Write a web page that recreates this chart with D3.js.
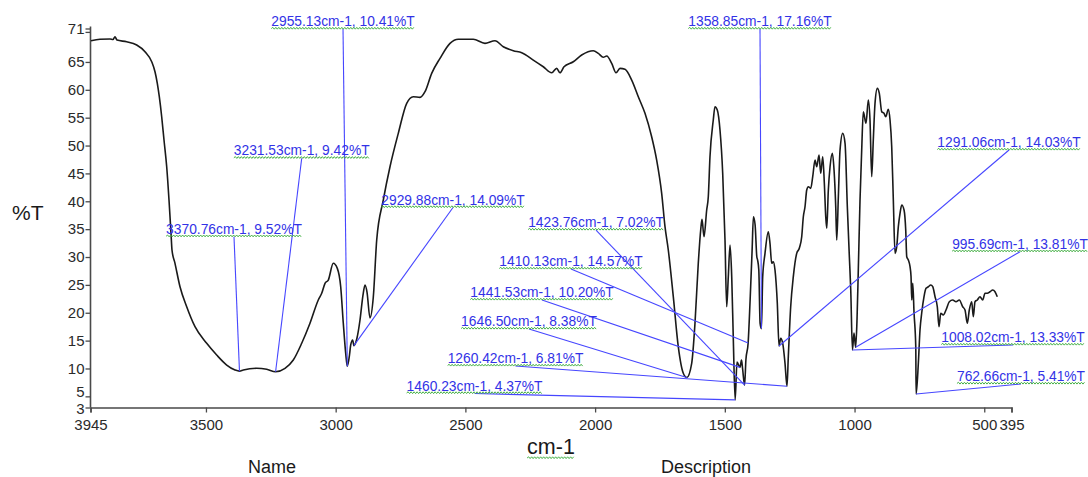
<!DOCTYPE html>
<html>
<head>
<meta charset="utf-8">
<script src="https://cdn.jsdelivr.net/npm/d3@7"></script>
<style>
  html, body { margin: 0; padding: 0; background: #fff; }
  svg { display: block; }
  text { font-family: "Liberation Sans", Arial, sans-serif; }
</style>
</head>
<body>
<svg id="chart" width="1088" height="477"></svg>
<script>
// IR spectrum: wavenumber (cm-1) vs transmittance (%T)
const wavenumbers = [
  3943.1, 3908.4, 3869.8, 3858.3, 3850.6, 3842.9, 3805.5, 3766.9, 3734.9, 3709.1,
  3696.4, 3687.5, 3679.8, 3670.6, 3661.7, 3651.3, 3642.4, 3634.7, 3630.9, 3619.3,
  3600.0, 3574.2, 3542.2, 3497.1, 3458.6, 3420.0, 3388.0, 3370.76, 3356.0, 3304.4,
  3265.8, 3231.53, 3195.3, 3163.3, 3130.9, 3099.0, 3067.0, 3053.8, 3041.1, 3028.4,
  3009.1, 2993.7, 2980.6, 2970.6, 2961.3, 2955.13, 2946.7, 2942.1, 2934.4, 2929.88,
  2917.8, 2906.2, 2894.7, 2886.9, 2879.2, 2867.7, 2854.9, 2841.8, 2816.4, 2790.6,
  2758.6, 2726.2, 2700.8, 2675.0, 2655.7, 2629.9, 2597.8, 2559.3, 2527.3, 2469.5,
  2424.4, 2385.9, 2353.9, 2315.3, 2282.9, 2238.3, 2199.7, 2167.3, 2148.1, 2135.3,
  2119.9, 2084.1, 2051.7, 2006.9, 1987.7, 1968.4, 1955.3, 1936.0, 1919.4, 1904.1,
  1884.8, 1859.0, 1833.5, 1807.7, 1782.0, 1762.7, 1743.4, 1730.6, 1717.9, 1698.6,
  1679.4, 1660.1, 1646.50, 1627.7, 1615.0, 1602.3, 1593.0, 1588.0, 1580.3, 1569.9,
  1563.7, 1557.2, 1544.5, 1537.9, 1529.0, 1518.6, 1508.2, 1499.3, 1492.8, 1486.6,
  1479.9, 1473.4, 1467.2, 1460.23, 1453.1, 1441.53, 1435.7, 1431.8, 1423.76, 1418.8,
  1410.13, 1402.5, 1394.8, 1389.8, 1383.2, 1376.7, 1373.6, 1369.0, 1364.0, 1358.85,
  1354.0, 1345.1, 1332.4, 1325.9, 1319.3, 1313.2, 1306.6, 1297.7, 1291.06, 1284.6,
  1276.8, 1268.0, 1260.42, 1255.3, 1246.1, 1236.0, 1222.9, 1212.9, 1203.6, 1197.4,
  1190.9, 1184.3, 1178.1, 1168.9, 1161.2, 1152.3, 1145.8, 1136.9, 1130.3, 1122.6,
  1116.4, 1111.0, 1107.1, 1101.0, 1094.4, 1085.6, 1079.0, 1072.5, 1068.6, 1062.4,
  1055.9, 1045.5, 1036.6, 1027.8, 1020.0, 1014.6, 1008.02, 1002.1, 995.69, 990.5,
  985.5, 978.9, 972.4, 966.2, 955.8, 946.9, 940.4, 933.8, 927.7, 921.1,
  912.2, 904.5, 895.2, 886.4, 879.8, 869.8, 863.2, 856.7, 850.5, 843.9,
  837.4, 831.2, 824.7, 818.1, 809.2, 802.7, 798.8, 792.6, 786.1, 782.2,
  779.5, 775.6, 770.6, 764.0, 762.66, 754.1, 747.7, 741.1, 732.2, 724.6,
  715.5, 706.3, 698.6, 689.7, 681.0, 674.4, 667.8, 657.9, 647.5, 634.7,
  621.6, 608.9, 596.2, 583.1, 574.2, 565.4, 557.7, 548.4, 542.2, 535.7,
  526.8, 516.4, 506.0, 497.1, 488.3, 477.8, 467.4, 458.6, 449.8
];
const transmittance = [
  68.80, 69.06, 69.11, 69.02, 69.52, 68.93, 68.62, 68.03, 66.83, 65.04,
  63.24, 61.16, 58.76, 55.17, 50.99, 46.20, 40.23, 34.25, 31.26, 28.87,
  24.67, 21.08, 17.50, 14.52, 12.42, 10.62, 9.73, 9.52, 9.73, 10.03,
  9.85, 9.42, 10.03, 11.52, 14.52, 18.11, 22.29, 23.49, 25.28, 25.87,
  28.87, 27.97, 24.67, 18.11, 12.72, 10.41, 12.42, 14.21, 15.11, 14.09,
  15.47, 18.70, 23.18, 24.98, 23.72, 19.06, 22.82, 33.05, 40.23, 46.20,
  52.19, 57.57, 58.76, 58.65, 59.66, 62.96, 65.65, 68.34, 69.06, 69.06,
  68.34, 68.80, 67.73, 67.01, 66.65, 65.34, 64.14, 63.06, 63.85, 63.06,
  64.14, 65.04, 66.24, 67.01, 66.54, 65.83, 66.06, 64.75, 63.06, 63.85,
  63.67, 61.75, 58.76, 55.78, 51.58, 47.40, 41.43, 35.44, 31.26, 22.88,
  13.91, 9.14, 8.38, 10.93, 18.11, 28.87, 34.84, 36.76, 33.64, 38.43,
  40.82, 47.99, 54.58, 56.96, 56.37, 52.78, 45.02, 33.05, 21.08, 26.47,
  32.15, 26.47, 15.11, 4.37, 11.16, 10.20, 11.52, 10.09, 7.02, 11.52,
  14.57, 22.29, 31.26, 37.23, 35.74, 30.05, 29.46, 27.67, 18.11, 17.16,
  26.47, 30.66, 34.54, 32.46, 28.87, 29.16, 27.67, 21.69, 14.03, 15.41,
  14.52, 10.93, 6.81, 12.11, 21.08, 26.47, 30.66, 31.56, 33.64, 37.23,
  39.02, 42.02, 42.61, 42.32, 44.41, 47.40, 46.20, 48.30, 45.02, 47.99,
  43.22, 37.23, 35.15, 42.02, 46.20, 48.60, 45.61, 39.02, 33.05, 40.82,
  49.20, 52.19, 50.40, 39.02, 30.05, 24.08, 13.33, 16.37, 13.81, 18.70,
  27.67, 40.23, 49.20, 56.07, 53.99, 58.17, 54.58, 44.41, 50.99, 57.57,
  60.26, 59.37, 56.07, 55.78, 55.17, 56.50, 54.58, 49.79, 40.23, 30.66,
  31.85, 35.44, 37.84, 39.33, 38.43, 34.84, 30.05, 29.46, 28.26, 26.47,
  22.29, 25.28, 19.95, 13.91, 5.41, 10.93, 16.90, 19.95, 22.88, 24.38,
  24.67, 24.98, 24.67, 22.88, 21.08, 17.50, 19.90, 19.59, 20.49, 21.98,
  22.29, 21.98, 22.29, 21.08, 20.49, 18.11, 20.49, 21.98, 19.29, 21.98,
  22.29, 22.88, 22.29, 23.49, 23.49, 23.77, 24.08, 23.77, 22.88
];

// Axis ticks
const xTickValues = [3945, 3500, 3000, 2500, 2000, 1500, 1000, 500, 395];
const yTickValues = [3, 5, 10, 15, 20, 25, 30, 35, 40, 45, 50, 55, 60, 65, 71];

// Peak picks
const peakWavenumbers = [2955.13, 3231.53, 3370.76, 2929.88, 1423.76, 1410.13, 1441.53,
  1646.50, 1260.42, 1460.23, 1358.85, 1291.06, 995.69, 1008.02, 762.66];
const peakTransmittance = [10.41, 9.42, 9.52, 14.09, 7.02, 14.57, 10.20,
  8.38, 6.81, 4.37, 17.16, 14.03, 13.81, 13.33, 5.41];
// Where each peak label sits, in chart units (label centre, underline level)
const labelWavenumbers = [2971.7, 3130.9, 3391.9, 2547.7, 1996.5, 2092.9, 2204.7,
  2254.8, 2306.8, 2464.9, 1364.4, 404.6, 362.2, 389.2, 358.4];
const labelTransmittance = [70.9, 47.71, 33.64, 38.88, 34.84, 27.85, 22.29,
  17.08, 10.45, 5.51, 70.9, 49.2, 30.95, 14.21, 7.22];

const svg = d3.select("#chart");
const margin = { left: 90.5, right: 1011.5, top: 28.5, bottom: 407.5 };

const x = d3.scaleLinear().domain([3945, 395]).range([margin.left, margin.right]);
const y = d3.scaleLinear().domain([3, 71]).range([margin.bottom, margin.top]);

const axisColor = "#4a4a4a";
const tickTextColor = "#2a2a2a";

// Axes
const gx = svg.append("g")
  .attr("transform", `translate(0,${margin.bottom})`)
  .call(d3.axisBottom(x).tickValues(xTickValues).tickFormat(d3.format("d")).tickSizeOuter(0).tickSize(5).tickPadding(3));
const gy = svg.append("g")
  .attr("transform", `translate(${margin.left},0)`)
  .call(d3.axisLeft(y).tickValues(yTickValues).tickFormat(d3.format("d")).tickSizeOuter(0).tickSize(5).tickPadding(1));

// extra short tick just under the top value
gy.append("line").attr("x1", -5).attr("x2", 0).attr("y1", y(70.3)).attr("y2", y(70.3))
  .attr("stroke", axisColor).attr("stroke-width", 1.3);

[gx, gy].forEach(g => {
  g.select(".domain").attr("stroke", axisColor).attr("stroke-width", 1.6);
  g.selectAll(".tick line").attr("stroke", axisColor).attr("stroke-width", 1.3);
  g.selectAll(".tick text").attr("fill", tickTextColor)
    .style("font-size", "15px").style("font-family", "'Liberation Sans', Arial, sans-serif");
});
gy.select(".domain").attr("d", `M0,${margin.top - 2}V${margin.bottom}`);
gx.selectAll(".tick text").attr("dy", "0.95em");
// the two lowest labels sit close together: nudge them apart
gy.selectAll(".tick text").filter(d => d === 3).attr("dy", "0.42em");
gy.selectAll(".tick text").filter(d => d === 5).attr("dy", "0.0em");

// Wavy underline like an editor's spell-check mark
function squiggle(x0, x1, yy) {
  const p = d3.path();
  p.moveTo(x0, yy);
  let up = true;
  for (let xx = x0 + 1.5; xx <= x1; xx += 1.5) {
    p.lineTo(xx, yy + (up ? -1.2 : 0.6));
    up = !up;
  }
  return p.toString();
}
const squiggleColor = "#45b045";

// Spectrum trace
const line = d3.line()
  .x((d, i) => x(wavenumbers[i]))
  .y((d, i) => y(transmittance[i]))
  .curve(d3.curveMonotoneX);
svg.append("path")
  .datum(wavenumbers)
  .attr("d", line)
  .attr("fill", "none")
  .attr("stroke", "#1a1a1a")
  .attr("stroke-width", 1.6)
  .attr("stroke-linejoin", "round");

// Peak leader lines and labels
const peakColor = "#4646ff";
const labelColor = "#3232e6";
const peaks = peakWavenumbers.map((w, i) => ({
  w, t: peakTransmittance[i], lw: labelWavenumbers[i], lt: labelTransmittance[i]
}));

svg.append("g").selectAll("line").data(peaks).join("line")
  .attr("x1", d => x(d.lw)).attr("y1", d => y(d.lt))
  .attr("x2", d => x(d.w)).attr("y2", d => y(d.t))
  .attr("stroke", peakColor).attr("stroke-width", 1.1);

const labels = svg.append("g").selectAll("g").data(peaks).join("g");
labels.append("text")
  .attr("x", d => x(d.lw)).attr("y", d => y(d.lt) - 3)
  .attr("text-anchor", "middle")
  .attr("fill", labelColor)
  .style("font-size", "13.8px")
  .text(d => `${d.w.toFixed(2)}cm-1, ${d.t.toFixed(2)}%T`);
labels.each(function(d) {
  const g = d3.select(this);
  const w = g.select("text").node().getComputedTextLength();
  const cx = x(d.lw);
  g.append("path")
    .attr("d", squiggle(cx - w / 2, cx + w / 2, y(d.lt) - 0.5))
    .attr("fill", "none").attr("stroke", squiggleColor).attr("stroke-width", 1);
});

// Axis titles
svg.append("text").attr("x", 12).attr("y", 220)
  .attr("fill", "#1a1a1a").style("font-size", "21px").text("%T");
const xt = svg.append("text").attr("x", (margin.left + margin.right) / 2).attr("y", 454)
  .attr("text-anchor", "middle").attr("fill", "#1a1a1a").style("font-size", "21.5px").text("cm-1");
const xtw = xt.node().getComputedTextLength();
svg.append("path")
  .attr("d", squiggle((margin.left + margin.right) / 2 - xtw / 2, (margin.left + margin.right) / 2 + xtw / 2, 458))
  .attr("fill", "none").attr("stroke", squiggleColor).attr("stroke-width", 1);

svg.append("text").attr("x", 272).attr("y", 473).attr("text-anchor", "middle")
  .attr("fill", "#1a1a1a").style("font-size", "18px").text("Name");
svg.append("text").attr("x", 706).attr("y", 473).attr("text-anchor", "middle")
  .attr("fill", "#1a1a1a").style("font-size", "18px").text("Description");
</script>
</body>
</html>
